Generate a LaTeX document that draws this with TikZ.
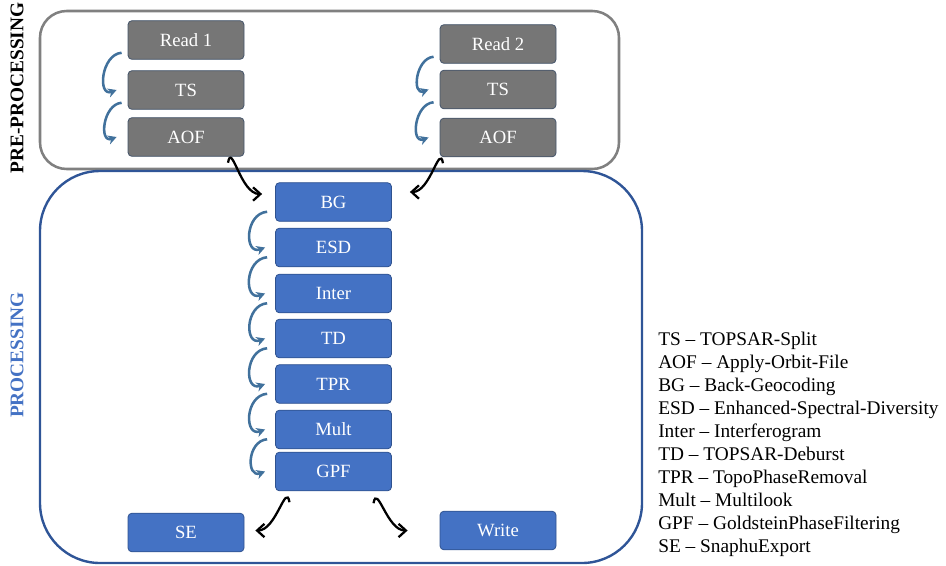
\documentclass[tikz,border=0pt]{standalone}
\usepackage{fontspec}
\setmainfont{Liberation Serif}
\usetikzlibrary{arrows.meta}
\definecolor{pregray}{HTML}{767676}
\definecolor{preedge}{HTML}{44546A}
\definecolor{boxblue}{HTML}{4472C4}
\definecolor{boxedge}{HTML}{2F528F}
\definecolor{flowblue}{HTML}{41719C}
\definecolor{framegray}{HTML}{808080}
\definecolor{frameblue}{HTML}{2F5597}
\begin{document}
\begin{tikzpicture}[x=0.75pt,y=-0.75pt,
  box/.style={rounded corners=3pt, minimum width=87pt, minimum height=29pt, line width=0.6pt, text=white, font=\fontsize{14}{16}\selectfont},
  prebox/.style={box, fill=pregray, draw=preedge},
  procbox/.style={box, fill=boxblue, draw=boxedge},
  flow/.style={-{Stealth[length=6.5pt,width=7pt]}, line width=1.9pt, draw=flowblue},
  link/.style={-{Straight Barb[length=5.5pt,width=10pt]}, line width=1.7pt},
  legend/.style={anchor=base west, inner sep=0pt, font=\fontsize{14.5}{17}\selectfont},
  side/.style={rotate=90, font=\bfseries\fontsize{14.5}{16}\selectfont}]
\useasboundingbox (0,0) rectangle (946,565);

% frames
\draw[framegray, line width=1.9pt, rounded corners=20pt](40,11) rectangle (619,169);
\draw[frameblue, line width=1.8pt, rounded corners=45pt](40,171) rectangle (642,563);
\node[side] (pre) at (17,88) {PRE-PROCESSING};
\node[side, text=boxblue] (proc) at (17,355) {PROCESSING};

% pre-processing
\node[prebox] (read1) at (186,40) {Read 1};
\node[prebox] (ts1) at (186,90) {TS};
\node[prebox] (aof1) at (186,137) {AOF};
\node[prebox] (read2) at (498,44) {Read 2};
\node[prebox] (ts2) at (498,89.5) {TS};
\node[prebox] (aof2) at (498,137.5) {AOF};
\foreach \a/\b in {read1/ts1, ts1/aof1, read2/ts2, ts2/aof2}
  \draw[flow](\a.south west)++(-6,-7) to[out=185, in=200, looseness=1.4] ([xshift=-8.25pt]\b.west);

% processing
\foreach \n/\y in {BG/202, ESD/247.5, Inter/293.5, TD/338.5, TPR/384, Mult/429.5, GPF/471.5}
  \node[procbox] (\n) at (333.5,\y) {\n};
\foreach \a/\b in {BG/ESD, ESD/Inter, Inter/TD, TD/TPR, TPR/Mult, Mult/GPF}
  \draw[flow](\a.south west)++(-8,-10) to[out=185, in=200, looseness=1.6] ([xshift=-7.5pt]\b.west);
\node[procbox] (SE) at (186,532.5) {SE};
\node[procbox] (Write) at (498,530.5) {Write};

\draw[link]([shift={(42,6)}]aof1.south) to[out=80, in=180, looseness=1.2] ([shift={(-13,-8)}]BG.west);
\draw[link]([shift={(-55,6)}]aof2.south) to[out=100, in=0, looseness=1.2] ([shift={(18,-10)}]BG.east);
\draw[link]([shift={(-44,11)}]GPF.south) to[out=100, in=0, looseness=1.2] ([shift={(11,-2)}]SE.east);
\draw[link]([shift={(40,12)}]GPF.south) to[out=80, in=180, looseness=1.2] ([shift={(-32,0)}]Write.west);

% legend
\foreach \t [count=\i] in {TS – TOPSAR-Split, AOF – Apply-Orbit-File, BG – Back-Geocoding,
  ESD – Enhanced-Spectral-Diversity, Inter – Interferogram, TD – TOPSAR-Deburst,
  TPR – TopoPhaseRemoval, Mult – Multilook, GPF – GoldsteinPhaseFiltering, SE – SnaphuExport}
  \node[legend] (leg\i) at (658,{345+23.1*(\i-1)}) {\t};
\end{tikzpicture}
\end{document}
